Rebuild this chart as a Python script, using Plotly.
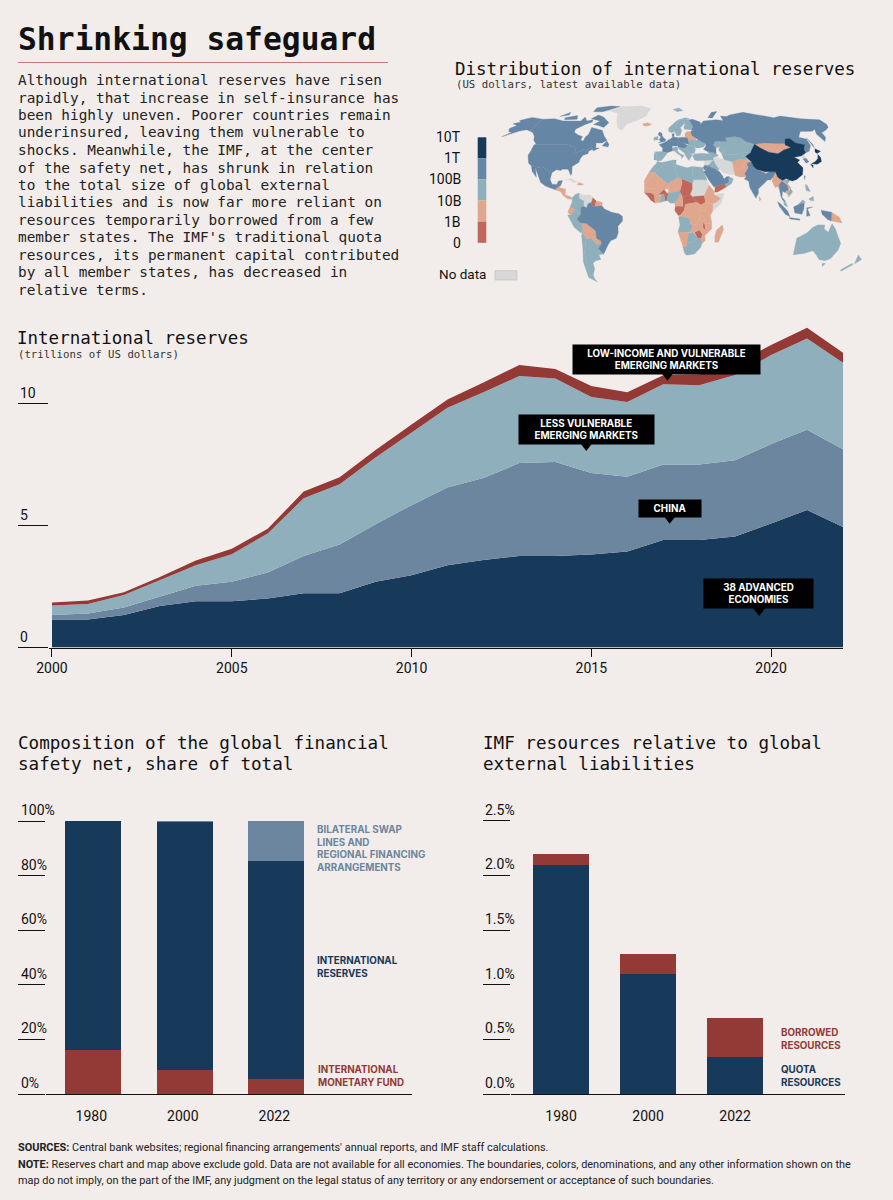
#!/usr/bin/env python3
"""Shrinking safeguard: reserves map, reserves area chart, safety net bars."""

import numpy as np
import plotly.graph_objects as go

W, H = 893, 1200
BG = "#f2edea"
NAVY = "#17395a"
SLATE = "#6b869e"
MAP_SLATE = "#6586a4"
SKY = "#8fafbc"
PEACH = "#e0a78f"
BRICK = "#bf675a"
RED = "#943a36"
GREY = "#d8d8d8"
INK = "#111111"
MONO = "DejaVu Sans Mono"
SANS = "Roboto"
LABEL = "Inter"

# reserves by group, trillions of US dollars
YEARS = list(range(2000, 2023))
ADVANCED = [1.15, 1.15, 1.33, 1.70, 1.90, 1.90, 2.01, 2.23, 2.23, 2.70, 2.96, 3.38, 3.59, 3.76, 3.76, 3.82, 3.94, 4.41, 4.41, 4.56, 5.09, 5.64, 4.95]
CHINA = [0.18, 0.25, 0.31, 0.38, 0.63, 0.80, 1.07, 1.53, 2.00, 2.36, 2.88, 3.19, 3.37, 3.81, 3.85, 3.34, 3.07, 3.10, 3.10, 3.12, 3.26, 3.30, 3.19]
LESS_VULNERABLE = [0.39, 0.39, 0.51, 0.68, 0.85, 1.13, 1.60, 2.36, 2.47, 2.74, 2.99, 3.27, 3.51, 3.57, 3.43, 3.12, 3.07, 3.29, 3.25, 3.50, 3.65, 3.74, 3.55]
LOW_INCOME = [0.13, 0.14, 0.12, 0.13, 0.19, 0.22, 0.19, 0.28, 0.29, 0.31, 0.32, 0.34, 0.41, 0.45, 0.39, 0.45, 0.40, 0.37, 0.45, 0.46, 0.41, 0.44, 0.41]

CALLOUT_TEXT = ["LOW-INCOME AND VULNERABLE<br>EMERGING MARKETS", "LESS VULNERABLE<br>EMERGING MARKETS", "CHINA", "38 ADVANCED<br>ECONOMIES"]
CALLOUT_YEAR = [2017.08, 2014.86, 2017.19, 2019.65]
CALLOUT_VALUE = [11.82, 8.93, 5.72, 2.20]
CALLOUT_TIP_YEAR = [2017.12, 2014.86, 2017.18, 2019.67]
CALLOUT_TIP_VALUE = [11.19, 8.31, 5.32, 1.54]

# bar charts
BAR_YEARS = ["1980", "2000", "2022"]
NET_IMF = [16.2, 8.8, 5.6]
NET_RESERVES = [83.8, 90.9, 79.9]
NET_SWAPS = [0.0, 0.3, 14.5]
NET_TICKS = [0, 20, 40, 60, 80, 100]
RES_QUOTA = [2.10, 1.10, 0.34]
RES_BORROWED = [0.10, 0.18, 0.36]
RES_TICKS = [0.0, 0.5, 1.0, 1.5, 2.0, 2.5]

BODY_LINES = [
    "Although international reserves have risen",
    "rapidly, that increase in self-insurance has",
    "been highly uneven. Poorer countries remain",
    "underinsured, leaving them vulnerable to",
    "shocks. Meanwhile, the IMF, at the center",
    "of the safety net, has shrunk in relation",
    "to the total size of global external",
    "liabilities and is now far more reliant on",
    "resources temporarily borrowed from a few",
    "member states. The IMF's traditional quota",
    "resources, its permanent capital contributed",
    "by all member states, has decreased in",
    "relative terms.",
]
FOOT_LINES = [
    "<b>SOURCES:</b> Central bank websites; regional financing arrangements' annual reports, and IMF staff calculations.",
    "<b>NOTE:</b> Reserves chart and map above exclude gold. Data are not available for all economies. The boundaries, colors, denominations, and any other information shown on the",
    "map do not imply, on the part of the IMF, any judgment on the legal status of any territory or any endorsement or acceptance of such boundaries.",
]
LEGEND_LABELS = ["10T", "1T", "100B", "10B", "1B", "0"]

# rough country outlines as (lon, lat), grouped by reserve class
USA = [(-124.7,48.4),(-123,49),(-95,49),(-89,48),(-84.5,46.5),(-82.5,45),(-82.5,42),(-79,43),(-76.5,44),(-75,45),(-71,45),(-69,47.3),(-67,45),(-70,43.5),(-70,41.7),(-74,40.6),(-75.5,38),(-76,35),(-81,32),(-80,27),(-80.5,25.2),(-82.5,28),(-84,30),(-89,30),(-90,29),(-94,29.5),(-97.3,27.5),(-97.5,26),(-99.5,27.5),(-101,29.7),(-103,29),(-106.5,31.8),(-111,31.3),(-114.8,32.5),(-117.2,32.5),(-120.5,34.5),(-122.5,37.5),(-124.3,40.5),(-124,44)]
ALASKA = [(-141,69.6),(-141,60.3),(-137,59),(-131,55.5),(-135,58),(-145,60.5),(-151,59.5),(-155,58),(-163,54.8),(-158,58.5),(-162,59),(-165,61.5),(-161,64),(-168,65.5),(-162,67),(-166,68.5),(-156.5,71.2)]
CANADA = [(-141,69.6),(-128,70),(-115,68),(-108,68),(-95,68),(-94,71.5),(-88,68),(-82,69),(-81,67),(-87,65),(-94,61),(-93,58.5),(-88,56.5),(-82,55),(-82,52),(-79,51.5),(-79,54.5),(-77,57),(-78,62.5),(-70,61),(-65,60),(-60,55),(-56,52),(-60,50),(-66,50),(-65,48.5),(-64.5,46),(-61,46),(-66,43.8),(-67,45),(-69,47.3),(-71,45),(-75,45),(-76.5,44),(-79,43),(-82.5,42),(-82.5,45),(-84.5,46.5),(-89,48),(-95,49),(-123,49),(-128,52),(-131,55.5),(-137,59),(-141,60.3)]
BAFFIN = [(-80,73.5),(-72,71.5),(-62,66.5),(-65,62.5),(-72,64),(-78,65),(-73,68),(-85,70)]
VICTORIA = [(-117,71),(-105,73),(-101,69.5),(-115,69)]
ELLESMERE = [(-90,76.5),(-78,76.5),(-62,82.5),(-75,83),(-92,81)]
BANKS = [(-125,72),(-118,76),(-116,73.5)]
NEWFOUNDLAND = [(-59,47.7),(-53,46.8),(-53,49),(-56,51.5)]
MEXICO = [(-117.2,32.5),(-114.8,32.5),(-111,31.3),(-106.5,31.8),(-103,29),(-101,29.7),(-99.5,27.5),(-97.5,26),(-97.8,22),(-95.5,18.7),(-91.5,18.5),(-90.5,21),(-87,21.5),(-88,18),(-91,16),(-92.2,14.5),(-96,15.7),(-101,17.3),(-105.5,20),(-109,25.5),(-113,31),(-110,24),(-115,28.5)]
BRAZIL = [(-70,-4.2),(-70,1),(-67.5,2),(-65,1),(-64,4),(-61,5),(-60,1.5),(-58,2),(-52,2.2),(-50,0),(-44,-2.5),(-38,-3.5),(-35,-5.5),(-35,-9),(-39,-13),(-39,-18),(-41,-22),(-46,-24),(-48.5,-27),(-53.5,-34),(-57.5,-30),(-54,-26),(-54.5,-24),(-58,-22),(-58,-17),(-60,-15),(-65.5,-11),(-70.5,-10.5),(-73.5,-7.5)]
RUSSIA = [(28,56),(28,59),(30,60),(28.5,60.5),(31.5,62.8),(29,69),(33,69.5),(41,67),(40,65),(45,68),(60,69),(68,68.5),(68,72.5),(75,72),(80,73.5),(100,76),(112,74),(130,71),(140,72.5),(160,70),(180,69),(180,65),(177,62.5),(170,60),(163,58),(162,54.5),(157,51),(156,57),(160,61),(155,59.3),(142,59),(135,54.5),(141,53),(140,48),(135,43.5),(131,42.5),(131,45),(135,48.5),(127.5,50),(125,53.5),(120,53),(117,49.5),(108,49.5),(98,50),(87,49),(80,51),(76.5,54),(71,55),(61,54),(61,51),(50,51.5),(47,48),(49,46),(48,42),(40,43.5),(37,45),(40,47.5),(40,49.5),(34,52.3),(32,53.5)]
SAKHALIN = [(142,54),(143,49),(142,46),(142,50)]
NOVAYA = [(52,71),(57,70.7),(68,77),(60,76)]
INDIA = [(74,34.5),(78,35.5),(79,32),(81,30),(88,26.5),(92,28),(97,28),(94,24),(92,22.5),(89,22),(86.5,20),(80,15),(80,12),(77.5,8),(73,16),(72.5,21),(69,22.5),(71,24.5),(70,26.5),(74,31)]
BANGLADESH = [(88,26),(92,25),(92,22),(89,22)]
SAUDI = [(34.5,28),(37,29.5),(39,32.5),(46,29),(48,28.5),(50.5,25),(51.5,22.5),(55,20),(52,19),(43.5,17),(42.5,16.5),(39,21),(36.5,25.5)]
UAE = [(51.5,22.5),(55,20),(56,24.5),(54,24.3)]
ISRAEL_JORDAN = [(34.5,31.5),(36,33),(39,32.5),(37,29.5),(35,29.5)]
THAILAND = [(98,18),(101,21),(105,18),(105.5,14.5),(102,12.5),(100.5,13.5),(99.5,9),(102,6),(100,6.5),(98.5,10)]
FRANCE = [(-1.5,43.4),(3,42.5),(7.5,43.8),(7.5,47.5),(8,49),(2.5,51),(-1.5,49.5),(-4.7,48.5),(-1.2,46)]
BENELUX = [(2.5,51),(6,49.5),(7,53.3),(4.5,52.5)]
GERMANY = [(6,49.5),(8,47.6),(13,47.5),(13.5,48.8),(12,50.3),(15,51),(14.2,54),(9,54.8),(7,53.5)]
DENMARK = [(8.2,55),(10,54.8),(10.5,57.5),(8.3,57)]
UK = [(-5.5,50),(1.3,51.2),(1.7,52.7),(-1,54.5),(-2,56),(-2,57.7),(-5,58.6),(-6,56.5),(-3,54.5),(-5,52.5),(-3,51.3)]
POLAND = [(14.2,54),(15,51),(19,49.5),(24,49),(23.5,54),(19,54.5)]
CENTRAL_EU = [(12,50.3),(15,51),(19,49.5),(22.5,48.2),(20,46),(16.5,46.5),(13.7,46.5),(13,47.5),(13.5,48.8)]
SOUTH_KOREA = [(125.5,37.7),(128.5,38.3),(129.5,35.5),(126.5,34.5)]
TAIWAN = [(121,25),(122,25),(120.8,22)]
KALIMANTAN = [(109,1.5),(115,4),(118,4.5),(117.5,0),(116,-4),(110,-3)]
SUMATRA = [(95.5,5.5),(98,4),(104,-1.5),(106,-5.8),(102,-4),(97,2)]
JAVA = [(105.5,-6.5),(114.5,-7.5),(114.5,-8.5),(106,-7.5)]
SULAWESI = [(120,1),(125,1.5),(120.5,0),(123,-5),(120,-5.5)]
PAPUA = [(132,-1),(141,-2.5),(141,-9),(138,-8),(133,-4)]

CHINA_MAP = [(74,39.5),(80,42.5),(82.5,45),(87,49),(91,46),(97,42.8),(105,41.7),(112,44.5),(120,46.5),(116,48.5),(120,53),(125,53.5),(127.5,50),(135,48.5),(131,45),(131,42.5),(125,40),(121,39.5),(118,39),(122,37),(119,35),(122,31),(120,26),(114,22.3),(110,21),(108,21.7),(105,23),(101.5,21.5),(98,24),(97,28),(92,28),(88,28),(81,30),(79,32),(78,35.5)]
HONSHU = [(131,34),(135,35.6),(139,38),(141,41),(142,39),(140.8,35.7),(136,33.8)]
HOKKAIDO = [(140,43),(142,45.5),(145.5,43.5),(141,41.8)]
KYUSHU = [(130,33.7),(132,33),(131,31)]

MOROCCO = [(-6,35.8),(-2,35),(-1.5,32),(-8.7,27.7),(-13,27.7),(-9.5,32),(-7,34)]
ALGERIA = [(-2,35),(8.5,37),(8,33),(9.5,30),(12,24),(3.3,19),(-5,25),(-8.7,27.7),(-1.5,32)]
TUNISIA = [(8.5,37),(11,37),(10.5,33.5),(9.5,30),(8,33)]
LIBYA = [(10.5,33.5),(15,32.5),(20,31),(25,32),(25,20),(24,19.5),(15,23),(12,24),(9.5,30)]
EGYPT = [(25,32),(34,31.3),(34.5,28),(36.9,22),(25,22)]
GHANA = [(-2.7,11),(0,11),(1,6),(-3,5)]
NIGERIA = [(2.7,6.3),(3.5,11.8),(13.5,13.5),(14,12),(11,6.7),(8.5,4.6),(5.5,4.3)]
ANGOLA = [(12.3,-6),(16,-6),(21.5,-7),(22,-11),(24,-13),(22,-17.5),(12,-17.3),(13.5,-12)]
BOTSWANA = [(21,-18.5),(25,-17.8),(29,-22),(25.5,-25.7),(20,-25)]
SOUTH_AFRICA = [(16.5,-28.5),(20,-28.5),(20,-25),(25.5,-25.7),(29,-22),(32,-22),(32.8,-26),(32,-29),(27,-34),(20,-34.8),(18,-33)]
COLOMBIA = [(-77.5,8.5),(-75,11),(-72,12),(-71.5,8),(-67.5,6),(-67.5,2),(-70,1),(-70,-4.2),(-72,-2.5),(-75,0),(-79,1.5),(-77.3,5)]
PERU = [(-81,-4.5),(-78.5,-4.5),(-75.5,-2),(-75,0),(-72,-2.5),(-70,-4.2),(-73.5,-7.5),(-70.5,-10.5),(-69,-13),(-69.5,-17.5),(-71,-18),(-76,-14),(-79.5,-7.5)]
URUGUAY = [(-57.5,-30),(-53.5,-34),(-58,-34.5)]
CHILE = [(-69.5,-17.5),(-67,-22.5),(-70,-32),(-71,-40),(-72,-50),(-68.5,-53),(-67,-55.5),(-74,-52),(-73.5,-40),(-71,-30),(-70.5,-20)]
ARGENTINA = [(-67,-22.5),(-62.5,-22),(-58,-27),(-54,-26),(-57.5,-30),(-58,-34.5),(-57,-38),(-62,-39),(-65,-41),(-65,-45),(-68.5,-50),(-68.5,-53),(-72,-50),(-71,-40),(-70,-32)]
SPAIN = [(-9,43),(-2,43.4),(3,42),(0,39),(-2,36.8),(-5.5,36),(-7,37),(-7,42)]
PORTUGAL = [(-9,42),(-7,42),(-7,37),(-9,37)]
ITALY = [(7.5,43.8),(7,45.8),(12,47),(13.7,45.7),(12.3,44.3),(14,42.3),(18.5,40.2),(16,38),(15.8,40),(12,41.9),(10,43.8)]
IRELAND = [(-10,52),(-6,52.2),(-6,55),(-10,54.3)]
NORWAY = [(5,59),(8,58),(11,59),(12.5,64),(18,69),(25,69),(30,70),(25,71),(15,68.5),(8,63.5),(5,62)]
SVALBARD = [(12,79),(20,80.5),(25,78),(17,76.7)]
SWEDEN = [(11,59),(13,55.5),(16.5,56),(18.8,60),(17.5,62),(21.5,65),(24,66),(20,69),(18,69),(12.5,64)]
FINLAND = [(21.5,61),(28,60.5),(31.5,62.8),(29,69),(25,69),(20,69),(24,66),(21.5,63)]
UKRAINE = [(24,49),(24,52),(31,52),(34,52.3),(40,49.5),(38,47),(33,46),(30,46),(28,48),(22.5,48.2)]
ROMANIA_BG = [(20,46),(22.5,48.2),(28,48),(29.5,45),(28,41.8),(22.5,41.5),(22.5,44)]
BALKANS = [(13.7,45.7),(16.5,46.5),(20,46),(22.5,44),(22.5,41.5),(20,40),(19,42),(15,44.5)]
GREECE = [(20,40),(22.5,41.5),(26,41),(23.5,38),(22.5,36.5),(21,38)]
TURKEY = [(26,40),(28,41.5),(35,42),(41.5,41.5),(44.5,39.5),(44.5,37),(36,36.5),(30,36.3),(27.5,37)]
KAZAKHSTAN = [(50,51.5),(61,51),(61,54),(71,55),(76.5,54),(80,51),(87,49),(82.5,45),(80,42.5),(71,42.5),(66,41),(56,41),(56,45),(53,42),(51,44.5),(53,47),(49,46),(47,48)]
UZBEK_TURKMEN = [(53,42),(56,45),(56,41),(66,41),(71,42.5),(73,40),(67,37.3),(61,35.5),(54,37.3)]
KYRGYZ_TAJIK = [(71,42.5),(80,42.5),(73.5,39.5),(75,37.5),(67,37.3),(73,40)]
CAUCASUS = [(40,43.5),(48,42),(49.5,40),(44.5,39),(41.5,41.5)]
IRAQ = [(44.5,37),(46,33),(48.5,30),(46,29),(39,32.5),(41,34.5)]
OMAN = [(52,19),(55,20),(56,24.5),(59.7,22.5),(57.5,19),(53,16.5)]
VIETNAM = [(102.5,22.5),(108,21.7),(105.5,19),(109,13),(105,8.8),(105,11),(107.5,16)]
MALAYA = [(100.5,6.5),(102,6),(104,1.5),(101,3)]
SARAWAK = [(109.5,1.5),(113,3.5),(117,7),(119,5),(115,4),(109,1.5)]
LUZON = [(120.5,18.5),(122,18),(124,13),(120.5,14)]
MINDANAO = [(122,7.5),(126,9.5),(126,6),(123,6.5)]
AUSTRALIA = [(114,-22),(122,-18),(126,-14),(130,-12),(136,-12),(136,-15),(140,-17.5),(142,-11),(145.5,-15),(153,-26),(153,-31),(150,-37.5),(146,-39),(140,-38),(136,-35),(131,-31.5),(124,-33.5),(115,-34.5),(114,-27)]
TASMANIA = [(145,-41),(148,-41),(147,-43.5)]
NZ_NORTH = [(173,-34.7),(178.5,-38),(175,-41.5),(174,-39)]
NZ_SOUTH = [(172.5,-41),(174,-42),(168,-47),(166.5,-46)]

ICELAND = [(-24,65.5),(-18,66.4),(-13.7,65),(-19,63.4),(-22.5,64)]
CENTRAL_AMERICA = [(-92.2,14.5),(-91,16),(-88,18),(-88.5,16),(-83.5,15),(-83.5,10.5),(-79.5,9.5),(-77.5,8.5),(-78,7.3),(-81,7.5),(-85,10),(-87.5,13)]
HISPANIOLA = [(-74.4,18.5),(-72.5,19.9),(-68.5,18.6),(-71.5,17.8)]
SURINAME = [(-57,6),(-52,5),(-52,2.2),(-58,2)]
ECUADOR = [(-79,1.5),(-75,0),(-75.5,-2),(-78.5,-4.5),(-81,-2.5)]
BOLIVIA = [(-69,-13),(-70.5,-10.5),(-65.5,-11),(-60,-15),(-58,-17),(-58,-20),(-62.5,-22),(-67,-22.5),(-69.5,-17.5)]
PARAGUAY = [(-58,-20),(-58,-22),(-54.5,-24),(-54,-26),(-58,-27),(-62.5,-22)]
W_SAHARA = [(-13,27.7),(-8.7,27.7),(-12,23.5),(-13,21.3),(-17,21)]
MAURITANIA = [(-17,21),(-13,21.3),(-12,23.5),(-8.7,27.3),(-5,25),(-6,16),(-12,15),(-16.5,16)]
MALI = [(-12,15),(-6,16),(-5,25),(3.3,19),(4,15),(0,15),(-5,10.5),(-8,10.5),(-11.5,12.5)]
NIGER = [(4,15),(3.3,19),(12,24),(15,23),(15.5,20),(13.5,13.5),(3.5,11.8)]
SENEGAL = [(-16.5,16),(-12,15),(-11.5,12.5),(-16.7,12.5)]
IVORY_COAST = [(-8,10.5),(-5,10.5),(-2.7,9.5),(-3,5),(-7.5,4.5),(-8,8)]
CAMEROON = [(8.5,4.6),(11,6.7),(14,12),(15.5,9),(16,2),(9.7,2.2)]
DRC = [(18,3.5),(19,3.7),(27.5,5),(31,3),(29.5,-1),(29.5,-6),(30.5,-8.5),(28.5,-9),(28.5,-12),(22,-11),(21.5,-7),(16,-6),(12.3,-6),(14,-4.5),(17,-1)]
ETHIOPIA = [(36,14),(38.5,18),(43,12.5),(42,11),(48,8),(44,5),(41,4),(35,5),(34,10)]
KENYA = [(35,5),(41,4),(41,-1.5),(39,-4.7),(34,-1),(34,4)]
UGANDA = [(31,3),(35,5),(34,-1),(29.5,-1)]
TANZANIA = [(29.5,-1),(34,-1),(39,-4.7),(40.3,-10.5),(34.5,-11.5),(30.5,-8.5),(29.5,-6)]
ZAMBIA = [(22,-11),(28.5,-12),(28.5,-9),(30.5,-8.5),(33,-10),(33,-14),(30,-15.6),(26,-17.8),(22,-17.5),(24,-13)]
MOZAMBIQUE = [(34.5,-11.5),(40.3,-10.5),(40.5,-15),(35,-20),(35.5,-24),(32.8,-26),(32,-22),(33,-19),(30,-15.6),(33,-14),(35.5,-16.5)]
NAMIBIA = [(12,-17.3),(22,-17.5),(25,-17.8),(21,-18.5),(20,-25),(20,-28.5),(16.5,-28.5)]
MADAGASCAR = [(49.3,-12),(50.5,-15.5),(47,-25),(44,-25),(43.5,-21),(44.5,-16)]
BALTICS = [(21,55),(23.5,54),(28,56),(28,59),(24,59),(21.5,57.5)]
BELARUS = [(24,52),(23.5,54),(28,56),(32,53.5),(31,52),(25,51.5)]
ALBANIA = [(19.3,42.4),(20.5,42),(20.8,40.5),(19.5,40.2)]
AFGHANISTAN = [(61,35.5),(67,37.3),(75,37.5),(71,34),(69,31),(66,29.5),(61,29.5),(61,31)]
PAKISTAN = [(61,29.5),(66,29.5),(69,31),(71,34),(75,37.5),(77.5,35),(74,31),(70,26.5),(71,24.5),(67,24),(61.5,25)]
NEPAL = [(81,30),(88,28),(88,26.5),(80,28.8)]
SRI_LANKA = [(80,9.5),(82,7.5),(80.5,6)]
MONGOLIA = [(87,49),(98,50),(108,49.5),(116,49.5),(120,46.5),(112,44.5),(105,41.7),(97,42.8),(91,46)]
MYANMAR = [(92.5,21),(94,24),(97,28),(98,24),(101,21.5),(98,18),(98.5,12),(97,17),(94.5,16)]
LAOS = [(101,21.5),(102.5,22.5),(107.5,16),(105.5,14.5),(105,18),(101,21)]
CAMBODIA = [(102.5,12.5),(105.5,14.5),(107.5,13),(105,10.5)]
PNG = [(141,-2.5),(147.5,-6),(150.5,-10.5),(141,-9)]

GUYANA = [(-60,8.5),(-57,6),(-58,2),(-60,1.5),(-61,5)]
GUINEA = [(-16.7,12.5),(-11.5,12.5),(-8,10.5),(-8,8),(-10.5,8.5),(-13.5,9.5)]
SIERRA_LIBERIA = [(-13.5,9.5),(-10.5,8.5),(-8,8),(-7.5,4.5),(-11,6.5)]
BURKINA = [(-5,10.5),(0,15),(2.3,12),(0,11),(-2.7,11)]
TOGO_BENIN = [(0,11),(2.3,12),(3.5,11.8),(2.7,6.3),(1,6)]
CHAD = [(15.5,20),(15,23),(24,19.5),(24,15),(22,11),(15.5,9),(14,12),(13.5,13.5)]
CAR = [(15.5,9),(22,11),(27.5,5),(19,3.7),(16,2)]
GABON_CONGO = [(9.7,2.2),(16,2),(18,3.5),(17,-1),(14,-4.5),(12,-5),(9,-1)]
SOUTH_SUDAN = [(24,9),(27,9.5),(34,10),(35,5),(31,3),(27.5,5),(22,11)]
MALAWI = [(33,-10),(34.5,-11.5),(35.5,-16.5),(33,-14)]
ZIMBABWE = [(26,-17.8),(30,-15.6),(33,-19),(32,-22),(29,-22)]
YEMEN = [(43.5,17),(52,19),(53,16.5),(45,12.7),(43,12.8)]

GREENLAND = [(-73,78),(-60,82),(-32,83.5),(-18,80),(-22,72),(-32,68),(-42,65),(-44,60),(-50,62),(-54,68),(-58,75)]
CUBA = [(-85,22),(-80,23.2),(-74.2,20.2),(-77.5,19.9),(-82,22.3)]
VENEZUELA = [(-72,12),(-68,10.5),(-62,10.7),(-60,8.5),(-61,5),(-64,4),(-65,1),(-67.5,2),(-67.5,6),(-71.5,8)]
SUDAN = [(24,19.5),(25,20),(25,22),(36.9,22),(38.5,18),(36,14),(34,10),(27,9.5),(24,9),(22,11),(24,15)]
SOMALIA = [(42,11),(51,12),(48,4),(41,-1.5),(41,4),(44,5),(48,8)]
IRAN = [(44.5,39.5),(48,38.5),(54,37.3),(61,35.5),(61,31),(63,26),(57,26),(52,27),(48.5,30),(46,33)]
SYRIA = [(36,36.5),(44.5,37),(41,34.5),(39,32.5),(36,33)]
NORTH_KOREA = [(125,40),(131,42.5),(128,40),(128,38.3),(125,37.7)]

OVER_1T = [CHINA_MAP, HONSHU, HOKKAIDO, KYUSHU]
OVER_100B = [USA, ALASKA, CANADA, BAFFIN, VICTORIA, ELLESMERE, BANKS, NEWFOUNDLAND, MEXICO, BRAZIL, RUSSIA, SAKHALIN, NOVAYA, INDIA, BANGLADESH, SAUDI, UAE, ISRAEL_JORDAN, THAILAND, FRANCE, BENELUX, GERMANY, DENMARK, UK, POLAND, CENTRAL_EU, SOUTH_KOREA, TAIWAN, KALIMANTAN, SUMATRA, JAVA, SULAWESI, PAPUA]
OVER_10B = [MOROCCO, ALGERIA, TUNISIA, LIBYA, EGYPT, GHANA, NIGERIA, ANGOLA, BOTSWANA, SOUTH_AFRICA, COLOMBIA, PERU, URUGUAY, CHILE, ARGENTINA, SPAIN, PORTUGAL, ITALY, IRELAND, NORWAY, SVALBARD, SWEDEN, FINLAND, UKRAINE, ROMANIA_BG, BALKANS, GREECE, TURKEY, KAZAKHSTAN, UZBEK_TURKMEN, KYRGYZ_TAJIK, CAUCASUS, IRAQ, OMAN, VIETNAM, MALAYA, SARAWAK, LUZON, MINDANAO, AUSTRALIA, TASMANIA, NZ_NORTH, NZ_SOUTH]
OVER_1B = [ICELAND, CENTRAL_AMERICA, HISPANIOLA, SURINAME, ECUADOR, BOLIVIA, PARAGUAY, W_SAHARA, MAURITANIA, MALI, NIGER, SENEGAL, IVORY_COAST, CAMEROON, DRC, ETHIOPIA, KENYA, UGANDA, TANZANIA, ZAMBIA, MOZAMBIQUE, NAMIBIA, MADAGASCAR, BALTICS, BELARUS, ALBANIA, AFGHANISTAN, PAKISTAN, NEPAL, SRI_LANKA, MONGOLIA, MYANMAR, LAOS, CAMBODIA, PNG]
UNDER_1B = [GUYANA, GUINEA, SIERRA_LIBERIA, BURKINA, TOGO_BENIN, CHAD, CAR, GABON_CONGO, SOUTH_SUDAN, MALAWI, ZIMBABWE, YEMEN]
NO_DATA = [GREENLAND, CUBA, VENEZUELA, SUDAN, SOMALIA, IRAN, SYRIA, NORTH_KOREA]

# Robinson projection table, every 5 degrees of latitude
ROB_LAT = np.arange(0, 95, 5)
ROB_LEN = [1, .9986, .9954, .99, .9822, .973, .96, .9427, .9216, .8962, .8679, .835, .7986, .7597, .7186, .6732, .6213, .5722, .5322]
ROB_DEP = [0, .062, .124, .186, .248, .31, .372, .434, .4958, .5571, .6176, .6769, .7346, .7903, .8435, .8936, .9394, .9761, 1]


def px_x(x):
    return x / W


def px_y(y):
    return 1 - y / H


def project(ring):
    """Robinson x/y of one closed (lon, lat) ring."""
    xs, ys = [], []
    for lon, lat in list(ring) + [ring[0]]:
        xs.append(lon * np.interp(abs(lat), ROB_LAT, ROB_LEN))
        ys.append(np.sign(lat) * np.interp(abs(lat), ROB_LAT, ROB_DEP))
    return xs, ys


def text_at(fig, x, y, text, size, font=MONO, color=INK, xanchor="left", yanchor="middle", **kw):
    fig.add_annotation(x=px_x(x), y=px_y(y), xref="paper", yref="paper", text=text, showarrow=False,
                       xanchor=xanchor, yanchor=yanchor, align="left", borderpad=0,
                       font=dict(family=font, size=size, color=color), **kw)


def tick_label(fig, yref, left, value, text):
    fig.add_annotation(x=px_x(left), xref="paper", y=value, yref=yref, text=text, showarrow=False,
                       xanchor="left", yanchor="bottom", yshift=2, borderpad=0,
                       font=dict(family=SANS, size=14, color=INK))


def side_label(fig, x, y, text, color):
    text_at(fig, x, y, text, 9.8, font=LABEL, color=color)


def main():
    fig = go.Figure()

    # map, one filled trace per ring
    for polys, color in [(NO_DATA, GREY), (UNDER_1B, BRICK), (OVER_1B, PEACH), (OVER_10B, SKY), (OVER_100B, MAP_SLATE), (OVER_1T, NAVY)]:
        for ring in polys:
            xs, ys = project(ring)
            fig.add_trace(go.Scatter(x=xs, y=ys, mode="lines", fill="toself", fillcolor=color,
                                     line=dict(color=color, width=0.3), hoverinfo="skip", xaxis="x", yaxis="y"))

    # area chart
    for name, vals, color in [("38 advanced economies", ADVANCED, NAVY), ("China", CHINA, SLATE),
                              ("Less vulnerable emerging markets", LESS_VULNERABLE, SKY),
                              ("Low-income and vulnerable emerging markets", LOW_INCOME, RED)]:
        fig.add_trace(go.Scatter(x=YEARS, y=vals, name=name, stackgroup="reserves", mode="lines",
                                 fillcolor=color, line=dict(width=0, color=color), xaxis="x2", yaxis="y2"))
    fig.add_trace(go.Scatter(x=CALLOUT_TIP_YEAR, y=CALLOUT_TIP_VALUE, mode="markers", hoverinfo="skip",
                             marker=dict(symbol="triangle-down", size=12, color="#000000"), xaxis="x2", yaxis="y2"))

    # bars
    for name, vals, color in [("International Monetary Fund", NET_IMF, RED), ("International reserves", NET_RESERVES, NAVY),
                              ("Bilateral swap lines", NET_SWAPS, SLATE)]:
        fig.add_trace(go.Bar(x=[0, 1, 2], y=vals, name=name, width=0.612, marker=dict(color=color, line_width=0),
                             xaxis="x3", yaxis="y3"))
    for name, vals, color in [("Quota resources", RES_QUOTA, NAVY), ("Borrowed resources", RES_BORROWED, RED)]:
        fig.add_trace(go.Bar(x=[0, 1, 2], y=vals, name=name, width=0.644, marker=dict(color=color, line_width=0),
                             xaxis="x4", yaxis="y4"))

    hidden = dict(visible=False, fixedrange=True, automargin=False)
    axis_line = dict(showline=True, linecolor=INK, linewidth=1.3, showgrid=False, zeroline=False, automargin=False)
    y_ticks = dict(ticks="outside", tickcolor=INK, tickwidth=1.3, showticklabels=False, showgrid=False,
                   zeroline=False, automargin=False)
    fig.update_layout(
        width=W, height=H, autosize=False, margin=dict(l=0, r=0, t=0, b=0),
        paper_bgcolor=BG, plot_bgcolor="rgba(0,0,0,0)", showlegend=False, barmode="stack",
        xaxis=dict(domain=[px_x(430), px_x(893)], range=[-196.6, 192.4], **hidden),
        yaxis=dict(domain=[px_y(290), px_y(95)], range=[-0.757, 1.065], **hidden),
        xaxis2=dict(domain=[px_x(49), px_x(843)], range=[1999.917, 2022], tickvals=[2000, 2005, 2010, 2015, 2020],
                    ticks="outside", ticklen=8, tickcolor=INK, tickwidth=1.3, tickfont=dict(family=SANS, size=14, color=INK),
                    anchor="y2", **axis_line),
        yaxis2=dict(domain=[px_y(647.5), px_y(320)], range=[0, 13.44], tickvals=[0, 5, 10], ticklen=30, anchor="x2", **y_ticks),
        xaxis3=dict(domain=[px_x(46), px_x(412)], range=[-0.517, 3.483], tickvals=[0, 1, 2], ticktext=BAR_YEARS,
                    ticks="", ticklabelstandoff=9, ticklabelshift=-2, tickfont=dict(family=SANS, size=14, color=INK),
                    anchor="y3", **axis_line),
        yaxis3=dict(domain=[px_y(1094), px_y(815)], range=[0, 102.2], tickvals=NET_TICKS, ticklen=27, anchor="x3", **y_ticks),
        xaxis4=dict(domain=[px_x(511), px_x(845)], range=[-0.575, 3.264], tickvals=[0, 1, 2], ticktext=BAR_YEARS,
                    ticks="", ticklabelstandoff=9, tickfont=dict(family=SANS, size=14, color=INK), anchor="y4", **axis_line),
        yaxis4=dict(domain=[px_y(1094), px_y(815)], range=[0, 2.553], tickvals=RES_TICKS, ticklen=27, anchor="x4", **y_ticks),
    )

    # header and body text
    text_at(fig, 17, 39, "<b>Shrinking safeguard</b>", 31.3)
    fig.add_shape(type="line", xref="paper", yref="paper", x0=px_x(18), x1=px_x(388), y0=px_y(62.5), y1=px_y(62.5),
                  line=dict(color="#c77a72", width=1))
    for i, line in enumerate(BODY_LINES):
        text_at(fig, 16.5, 80 + i * 17.5, line, 14.4, color="#222222")

    text_at(fig, 454, 68.5, "Distribution of international reserves", 17.5)
    text_at(fig, 454.5, 85, "(US dollars, latest available data)", 10.7, color="#333333")
    text_at(fig, 16, 338, "International reserves", 17.5)
    text_at(fig, 16.5, 354.5, "(trillions of US dollars)", 10.7, color="#333333")
    text_at(fig, 17, 743, "Composition of the global financial", 17.6)
    text_at(fig, 17, 764, "safety net, share of total", 17.6)
    text_at(fig, 482, 743, "IMF resources relative to global", 17.6)
    text_at(fig, 482, 764, "external liabilities", 17.6)

    # map legend
    for i, color in enumerate([NAVY, MAP_SLATE, SKY, PEACH, BRICK]):
        fig.add_shape(type="rect", xref="paper", yref="paper", x0=px_x(477.7), x1=px_x(486.3),
                      y0=px_y(137.3 + 21.1 * i), y1=px_y(137.3 + 21.1 * (i + 1)), fillcolor=color, line_width=0)
    for i, label in enumerate(LEGEND_LABELS):
        text_at(fig, 462, 137 + 21.2 * i, label, 14, font=SANS, xanchor="right")
    text_at(fig, 438, 274, "No data", 13.5, font=SANS)
    fig.add_shape(type="rect", xref="paper", yref="paper", x0=px_x(495), x1=px_x(517), y0=px_y(270.7), y1=px_y(280),
                  fillcolor=GREY, line=dict(color="#bdbdbd", width=0.6))

    # area chart labels
    for val in [0, 5, 10]:
        tick_label(fig, "y2", 19, val, str(val))
    sizes = [(187, 29), (135, 29), (62, 17), (109, 29)]
    for text, yr, val, (w, h) in zip(CALLOUT_TEXT, CALLOUT_YEAR, CALLOUT_VALUE, sizes):
        fig.add_annotation(x=yr, y=val, xref="x2", yref="y2", text=f"<b>{text}</b>", showarrow=False, width=w, height=h,
                           bgcolor="#000000", borderpad=0, font=dict(family=LABEL, size=9.8, color="#ffffff"))

    # bar chart labels
    for val in NET_TICKS:
        tick_label(fig, "y3", 19.5, val, f"{val}%")
    for val in RES_TICKS:
        tick_label(fig, "y4", 484.5, val, f"{val:.1f}%")
    side_label(fig, 316, 848, "<b>BILATERAL SWAP<br>LINES AND<br>REGIONAL FINANCING<br>ARRANGEMENTS</b>", SLATE)
    side_label(fig, 315.5, 966.5, "<b>INTERNATIONAL<br>RESERVES</b>", NAVY)
    side_label(fig, 316.5, 1076, "<b>INTERNATIONAL<br>MONETARY FUND</b>", RED)
    side_label(fig, 780, 1038.5, "<b>BORROWED<br>RESOURCES</b>", RED)
    side_label(fig, 780, 1076, "<b>QUOTA<br>RESOURCES</b>", NAVY)

    # footer
    for y, line in zip([1147, 1164, 1180.5], FOOT_LINES):
        text_at(fig, 17, y, line, 10.9, font=SANS, color="#222222")

    fig.write_html("out.html", config=dict(displayModeBar=False),
                   post_script="document.body.style.margin='0';document.body.style.background='%s';" % BG)


if __name__ == "__main__":
    main()
